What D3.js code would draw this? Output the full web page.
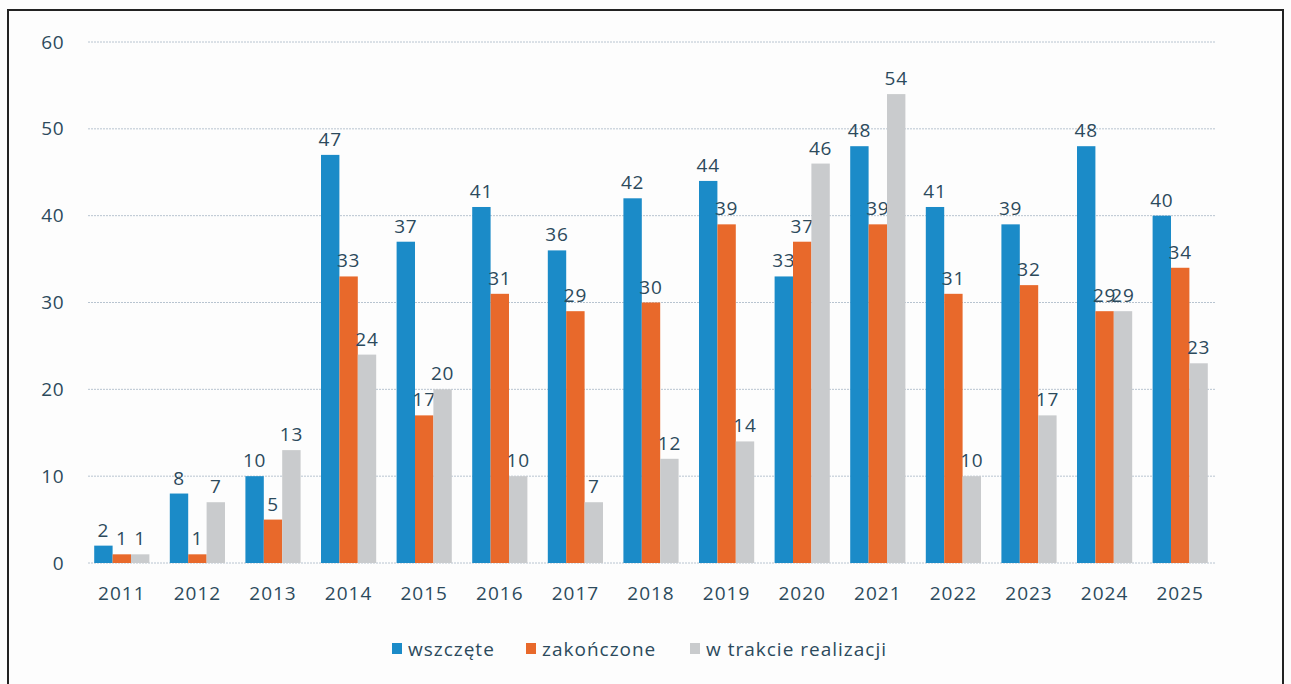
<!DOCTYPE html>
<html>
<head>
<meta charset="utf-8">
<script src="https://cdn.jsdelivr.net/npm/d3@7"></script>
<style>
  body { margin: 0; background: #fdfdfd; }
  text { font-family: "Open Sans", "Noto Sans", sans-serif; fill: #2c4a5c; }
</style>
</head>
<body>
<svg id="chart" width="1291" height="684"></svg>
<script>
var years = ["2011", "2012", "2013", "2014", "2015", "2016", "2017", "2018", "2019", "2020", "2021", "2022", "2023", "2024", "2025"];
var wszczete = [2, 8, 10, 47, 37, 41, 36, 42, 44, 33, 48, 41, 39, 48, 40];
var zakonczone = [1, 1, 5, 33, 17, 31, 29, 30, 39, 37, 39, 31, 32, 29, 34];
var wTrakcie = [1, 7, 13, 24, 20, 10, 7, 12, 14, 46, 54, 10, 17, 29, 23];
var seriesNames = ["wszczęte", "zakończone", "w trakcie realizacji"];
var yTicks = [0, 10, 20, 30, 40, 50, 60];

var colors = ["#1b8bc8", "#e8692b", "#c9cbcd"];
var series = [wszczete, zakonczone, wTrakcie];

var svg = d3.select("#chart");

// frame
svg.append("rect")
  .attr("x", 8).attr("y", 10)
  .attr("width", 1275).attr("height", 690)
  .attr("fill", "none")
  .attr("stroke", "#222")
  .attr("stroke-width", 2);

var x = d3.scaleBand().domain(years).range([84, 1218]).paddingInner(0.27).paddingOuter(0.135);
var inner = d3.scaleBand().domain([0, 1, 2]).range([0, x.bandwidth()]);
var y = d3.scaleLinear().domain([0, 60]).range([563, 42]);

// gridlines
svg.append("g")
  .selectAll("line")
  .data(yTicks)
  .enter()
  .append("line")
  .attr("x1", 88).attr("x2", 1215)
  .attr("y1", function (d) { return y(d); })
  .attr("y2", function (d) { return y(d); })
  .attr("stroke", "#b8c4d0")
  .attr("stroke-width", 1)
  .attr("stroke-dasharray", "2,1");

// y axis labels
var yAxis = d3.axisLeft(y).tickValues(yTicks).tickSize(0).tickPadding(0);
var gy = svg.append("g")
  .attr("transform", "translate(64,0)")
  .call(yAxis);
gy.select(".domain").remove();
gy.selectAll("text").attr("font-size", 19).attr("letter-spacing", 0.5).style("fill", "#2c4a5c").attr("font-family", "Open Sans");

// x axis labels
var xAxis = d3.axisBottom(x).tickSize(0).tickPadding(0);
var gx = svg.append("g")
  .attr("transform", "translate(0,586)")
  .call(xAxis);
gx.select(".domain").remove();
gx.selectAll("text").attr("font-size", 19).attr("letter-spacing", 1).style("fill", "#2c4a5c").attr("font-family", "Open Sans");

// bars and value labels
series.forEach(function (vals, s) {
  var g = svg.append("g");
  g.selectAll("rect")
    .data(vals)
    .enter()
    .append("rect")
    .attr("x", function (d, i) { return x(years[i]) + inner(s); })
    .attr("y", function (d) { return y(d); })
    .attr("width", inner.bandwidth())
    .attr("height", function (d) { return y(0) - y(d); })
    .attr("fill", colors[s]);

  g.selectAll("text")
    .data(vals)
    .enter()
    .append("text")
    .attr("x", function (d, i) { return x(years[i]) + inner(s) + inner.bandwidth() / 2; })
    .attr("y", function (d) { return y(d) - 9; })
    .attr("text-anchor", "middle")
    .attr("font-size", 19)
    .attr("letter-spacing", 0.8)
    .text(function (d) { return d; });
});

// legend
var legendX = [392, 526, 690];
var legend = svg.append("g");
seriesNames.forEach(function (name, s) {
  legend.append("rect")
    .attr("x", legendX[s]).attr("y", 643)
    .attr("width", 10).attr("height", 11)
    .attr("fill", colors[s]);
  legend.append("text")
    .attr("x", legendX[s] + 16).attr("y", 656)
    .attr("font-size", 19)
    .attr("letter-spacing", 1)
    .text(name);
});
</script>
</body>
</html>
